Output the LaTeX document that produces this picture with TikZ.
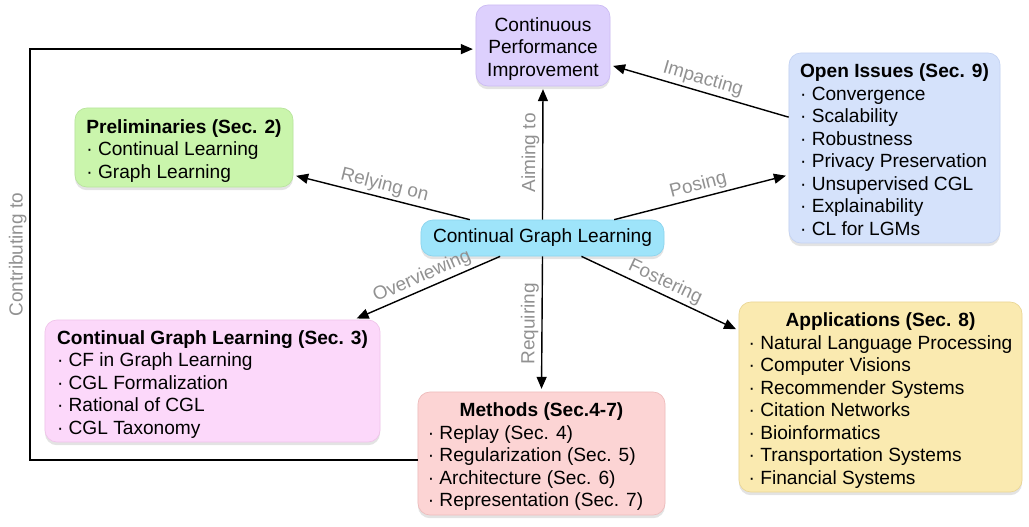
\documentclass[tikz,border=0pt]{standalone}
\usepackage{fontspec}
\setmainfont{Liberation Sans}
\usetikzlibrary{arrows.meta,shadows}

\definecolor{perffill}{RGB}{221,208,253}
\definecolor{perfline}{RGB}{204,188,243}
\definecolor{prelfill}{RGB}{202,245,172}
\definecolor{prelline}{RGB}{184,228,156}
\definecolor{openfill}{RGB}{213,226,251}
\definecolor{openline}{RGB}{196,211,243}
\definecolor{ctrfill}{RGB}{158,228,250}
\definecolor{ctrline}{RGB}{140,212,238}
\definecolor{cglfill}{RGB}{252,216,250}
\definecolor{cglline}{RGB}{240,196,234}
\definecolor{methfill}{RGB}{252,212,212}
\definecolor{methline}{RGB}{238,188,188}
\definecolor{appfill}{RGB}{250,234,176}
\definecolor{appline}{RGB}{234,214,150}
\definecolor{taggray}{RGB}{145,145,145}

% lower a box text a little, keeping its size
\newcommand{\boxtext}[1]{\raisebox{-2.8pt}[\height][\depth]{#1}}

\begin{document}
\begin{tikzpicture}[x=0.025cm, y=-0.025cm,
  box/.style={rounded corners=0.3cm, line width=0.5pt, inner xsep=0.2cm, inner ysep=0pt,
    font=\fontsize{13.6}{16}\selectfont,
    drop shadow={opacity=0.22, shadow xshift=0pt, shadow yshift=-0.08cm}},
  link/.style={line width=1pt, -{Triangle[length=0.3cm,width=0.25cm]}, shorten >=2pt},
  tag/.style={midway, sloped, above, inner sep=2pt, text=taggray,
    font=\fontsize{13.5}{16}\selectfont}]
  \useasboundingbox (0,0) rectangle (1029,526);

  % Central topic
  \node[box, fill=ctrfill, draw=ctrline, minimum width=6.075cm, minimum height=0.9cm]
    (ctr) at (542.5,238) {Continual Graph Learning};

  % Surrounding boxes
  \node[box, fill=perffill, draw=perfline, minimum width=3.35cm, minimum height=2.025cm]
    (perf) at (543,45.5)
    {\boxtext{\begin{tabular}{@{}c@{}}Continuous\\Performance\\Improvement\end{tabular}}};

  \node[box, fill=prelfill, draw=prelline, minimum width=5.45cm, minimum height=1.975cm]
    (prel) at (184,147.5)
    {\boxtext{\begin{tabular}{@{}l@{}}\textbf{Preliminaries (Sec. 2)}\\· Continual Learning\\· Graph Learning\end{tabular}}};

  \node[box, fill=openfill, draw=openline, minimum width=5.275cm, minimum height=4.75cm]
    (open) at (894.5,148)
    {\boxtext{\begin{tabular}{@{}l@{}}\textbf{Open Issues (Sec. 9)}\\· Convergence\\· Scalability\\· Robustness\\
      · Privacy Preservation\\· Unsupervised CGL\\· Explainability\\· CL for LGMs\end{tabular}}};

  \node[box, fill=cglfill, draw=cglline, minimum width=8.375cm, minimum height=3.05cm]
    (cgl) at (212.5,381)
    {\boxtext{\begin{tabular}{@{}l@{}}\textbf{Continual Graph Learning (Sec. 3)}\\· CF in Graph Learning\\
      · CGL Formalization\\· Rational of CGL\\· CGL Taxonomy\end{tabular}}};

  \node[box, fill=methfill, draw=methline, minimum width=6.175cm, minimum height=3.075cm]
    (meth) at (541.5,453.5)
    {\boxtext{\begin{tabular}{@{}l@{\hspace{0.3cm}}}\multicolumn{1}{@{}c@{}}{\textbf{Methods (Sec.4-7)}}\\
      · Replay (Sec. 4)\\· Regularization (Sec. 5)\\· Architecture (Sec. 6)\\· Representation (Sec. 7)\end{tabular}}};

  \node[box, fill=appfill, draw=appline, minimum width=7.075cm, minimum height=4.75cm]
    (app) at (880.5,397)
    {\boxtext{\begin{tabular}{@{}l@{}}\multicolumn{1}{@{}c@{}}{\textbf{Applications (Sec. 8)}}\\
      · Natural Language Processing\\· Computer Visions\\· Recommender Systems\\
      · Citation Networks\\· Bioinformatics\\· Transportation Systems\\· Financial Systems\end{tabular}}};

  % Relations
  \draw[link] (ctr.north) -- (perf.south) node[tag] {Aiming to};
  \draw[link] (ctr) -- (prel) node[tag] {Relying on};
  \draw[link] (ctr) -- (open) node[tag] {Posing};
  \draw[link] (open) -- (perf) node[tag] {Impacting};
  \draw[link] (ctr) -- (cgl) node[tag] {Overviewing};
  \draw[link] (ctr.south) -- (meth.north) node[tag] {Requiring};
  \draw[link] (ctr) -- (app) node[tag] {Fostering};

  % Feedback loop
  \coordinate (bend) at (30,460);
  \coordinate (entry) at ([yshift=-0.09cm]perf.west);
  \draw[link] (meth.west |- bend) -- (bend) -- (bend |- entry)
    node[tag] {Contributing to} -- (entry);
\end{tikzpicture}
\end{document}
